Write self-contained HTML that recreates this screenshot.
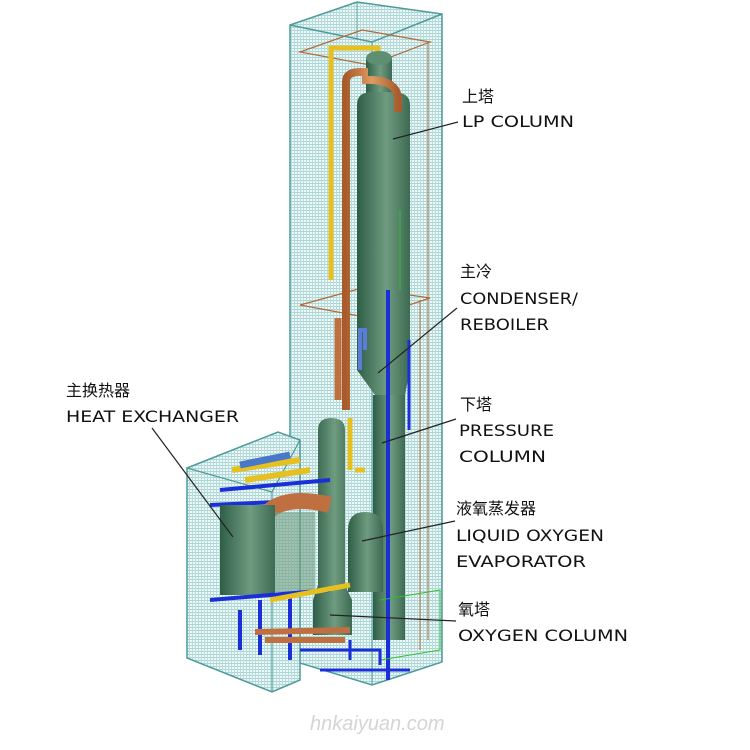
<!DOCTYPE html>
<html><head><meta charset="utf-8"><style>
html,body{margin:0;padding:0;background:#fff;width:750px;height:750px;overflow:hidden}
text{font-family:"DejaVu Sans","Noto Sans CJK SC",sans-serif;fill:#111}
</style></head><body>
<svg width="750" height="750" viewBox="0 0 750 750" xmlns="http://www.w3.org/2000/svg">
<defs>
<pattern id="g" width="3" height="3" patternUnits="userSpaceOnUse">
<rect width="3" height="3" fill="#eef8f8"/>
<rect width="3" height="1" fill="#a9d4d4"/>
<rect width="1" height="3" fill="#b8dcdc"/>
</pattern>
<linearGradient id="col" x1="0" x2="1">
<stop offset="0" stop-color="#2f5e47"/><stop offset="0.55" stop-color="#6f9c80"/><stop offset="1" stop-color="#3d6a52"/>
</linearGradient>
<linearGradient id="or" x1="0" x2="1">
<stop offset="0" stop-color="#a85c2c"/><stop offset="0.5" stop-color="#e09a62"/><stop offset="1" stop-color="#a85c2c"/>
</linearGradient>
</defs>
<polygon points="290,25 357,2 442,14 442,662 372,685 290,660" fill="url(#g)" stroke="#4e9a9a" stroke-width="1.5"/>
<line x1="357" y1="2" x2="357" y2="40" stroke="#6aaaaa"/>
<polyline points="290,25 372,42 442,14" fill="none" stroke="#4e9a9a" stroke-width="1.5"/>
<line x1="372" y1="42" x2="372" y2="685" stroke="#5aa3a3" stroke-width="1.2"/>
<polygon points="187,468 278,432 300,440 300,680 272,692 187,658" fill="url(#g)" stroke="#4e9a9a" stroke-width="1.5"/>
<polyline points="187,468 272,492 300,440" fill="none" stroke="#4e9a9a" stroke-width="1.2"/>
<line x1="272" y1="492" x2="272" y2="692" stroke="#5aa3a3" stroke-width="1.2"/>
<polygon points="300,52 362,30 430,42 370,65" fill="none" stroke="#b06a3a" stroke-width="1.2"/>
<polygon points="300,305 362,288 430,298 370,318" fill="none" stroke="#b06a3a" stroke-width="1.2"/>
<line x1="428" y1="42" x2="428" y2="640" stroke="#b06a3a"/>
<line x1="420" y1="300" x2="420" y2="650" stroke="#b06a3a"/>
<path d="M331,280 V48 H378 V60" fill="none" stroke="#e6c020" stroke-width="5"/>
<path d="M350,418 V470 M355,470 h10" stroke="#e6c020" stroke-width="5" fill="none"/>
<rect x="366" y="58" width="26" height="40" fill="url(#col)"/>
<ellipse cx="379" cy="58" rx="13" ry="7" fill="#5f8f72"/>
<path d="M357,105 Q357,92 372,92 L392,92 Q410,92 410,105 V370 L405,395 H375 L357,370 Z" fill="url(#col)"/>
<rect x="373" y="395" width="32" height="245" fill="url(#col)"/>
<path d="M346,410 V82 Q346,72 360,72 H368 M362,80 Q398,78 398,100 V112" fill="none" stroke="url(#or)" stroke-width="8"/>
<path d="M338,318 V400" stroke="#c07040" stroke-width="7" fill="none"/>
<line x1="388" y1="290" x2="388" y2="680" stroke="#1a2fd8" stroke-width="4"/>
<path d="M360,370 V330 H365 V350" stroke="#5a7ed8" stroke-width="4" fill="none"/>
<line x1="409" y1="340" x2="409" y2="430" stroke="#1a2fd8" stroke-width="3"/>
<line x1="400" y1="210" x2="400" y2="290" stroke="#30c030" stroke-width="1"/>
<polyline points="380,600 440,590 440,650 380,660" fill="none" stroke="#30c030"/>
<path d="M318,430 Q318,418 331,418 Q345,418 345,430 V585 L352,600 V635 H313 V600 L318,585 Z" fill="url(#col)"/>
<path d="M348,530 Q348,512 365,512 Q383,512 383,530 V592 H348 Z" fill="url(#col)"/>
<path d="M232,470 L300,460 M245,480 L310,470" stroke="#e6c020" stroke-width="6"/>
<path d="M220,490 L330,480 M210,505 L320,500" stroke="#1a2fd8" stroke-width="4"/>
<path d="M240,465 L290,455" stroke="#4a78c8" stroke-width="7"/>
<path d="M270,510 Q290,495 330,505" stroke="#c07040" stroke-width="16" fill="none"/>
<rect x="220" y="505" width="55" height="90" fill="url(#col)"/>
<rect x="275" y="512" width="40" height="80" fill="#6f9c80" opacity="0.6"/>
<path d="M210,600 L330,590 M240,610 V650 M260,600 V655 M290,595 V660" stroke="#1a2fd8" stroke-width="4"/>
<path d="M270,600 L350,585" stroke="#e6c020" stroke-width="5"/>
<path d="M255,632 L350,630 M265,640 H345" stroke="#c07040" stroke-width="6"/>
<path d="M300,650 H380 V665 M320,670 H410 M350,640 V660" stroke="#1a2fd8" stroke-width="3" fill="none"/>
<g stroke="#222" stroke-width="1.2">
<line x1="458" y1="122" x2="393" y2="139"/>
<line x1="457" y1="308" x2="378" y2="373"/>
<line x1="456" y1="419" x2="382" y2="443"/>
<line x1="455" y1="521" x2="362" y2="541"/>
<line x1="456" y1="621" x2="330" y2="615"/>
<line x1="152" y1="428" x2="233" y2="537"/>
</g>
<g font-size="16">
<text x="462" y="102">上塔</text>
<text x="462" y="127" textLength="112" lengthAdjust="spacingAndGlyphs">LP COLUMN</text>
<text x="460" y="277">主冷</text>
<text x="460" y="304" textLength="118" lengthAdjust="spacingAndGlyphs">CONDENSER/</text>
<text x="460" y="330" textLength="89" lengthAdjust="spacingAndGlyphs">REBOILER</text>
<text x="460" y="410">下塔</text>
<text x="459" y="436" textLength="95" lengthAdjust="spacingAndGlyphs">PRESSURE</text>
<text x="459" y="462" textLength="87" lengthAdjust="spacingAndGlyphs">COLUMN</text>
<text x="456" y="514">液氧蒸发器</text>
<text x="456" y="541" textLength="148" lengthAdjust="spacingAndGlyphs">LIQUID OXYGEN</text>
<text x="456" y="567" textLength="130" lengthAdjust="spacingAndGlyphs">EVAPORATOR</text>
<text x="458" y="615">氧塔</text>
<text x="458" y="641" textLength="170" lengthAdjust="spacingAndGlyphs">OXYGEN COLUMN</text>
<text x="66" y="396">主换热器</text>
<text x="66" y="422" textLength="173" lengthAdjust="spacingAndGlyphs">HEAT EXCHANGER</text>
</g>
<text x="310" y="730" font-size="20" style="fill:#d4d4d4;font-family:'Liberation Sans',sans-serif" font-style="italic">hnkaiyuan.com</text>
</svg>
</body></html>
